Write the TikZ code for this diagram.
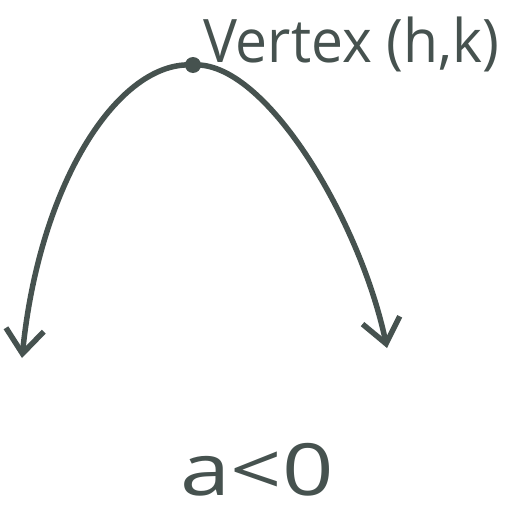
\documentclass[tikz,border=0pt]{standalone}
\usepackage{fontspec}
\setmainfont{Open Sans}
\usetikzlibrary{arrows.meta}
\definecolor{ink}{HTML}{46524F}
\tikzset{
  curve/.style={draw=ink, line width=5.5pt, line cap=round,
    -{Straight Barb[length=24pt,width=38pt,line width=5.5pt]}},
  hand/.style={text=ink, inner sep=0pt}
}
\begin{document}
\begin{tikzpicture}[x=1pt,y=-1pt]
  \useasboundingbox (0,0) rectangle (509,514);
  \node[circle, fill=ink, minimum size=16pt, inner sep=0pt] (v) at (193,65) {};
  \coordinate (l) at (22,358);
  \coordinate (r) at (387,348);
  \draw[curve] (v.center) .. controls (120,60) and (40,180) .. (l);
  \draw[curve] (v.center) .. controls (265,60) and (360,220) .. (r);
  \node[hand, anchor=base west, xscale=0.95, font=\fontsize{60}{60}\selectfont] (lab) at (203,62) {Vertex (h,k)};
  \node[hand, anchor=base, xscale=1.25, font=\fontsize{72}{72}\selectfont] (a) at (257,495) {a<0};
\end{tikzpicture}
\end{document}
